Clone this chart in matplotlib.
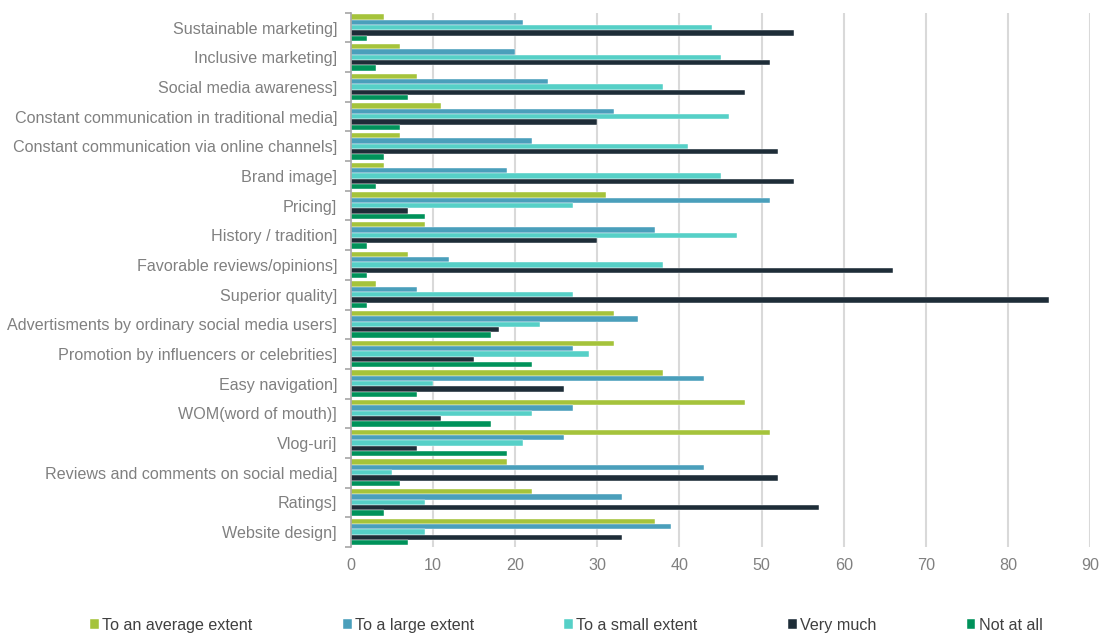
import numpy as np
import matplotlib.pyplot as plt

plt.rcParams['font.family'] = ['Liberation Sans', 'DejaVu Sans']

# survey factors, listed top to bottom
factors = [
    "Sustainable marketing]",
    "Inclusive marketing]",
    "Social media awareness]",
    "Constant communication in traditional media]",
    "Constant communication via online channels]",
    "Brand image]",
    "Pricing]",
    "History / tradition]",
    "Favorable reviews/opinions]",
    "Superior quality]",
    "Advertisments by ordinary social media users]",
    "Promotion by influencers or celebrities]",
    "Easy navigation]",
    "WOM(word of mouth)]",
    "Vlog-uri]",
    "Reviews and comments on social media]",
    "Ratings]",
    "Website design]",
]

average_extent = [4, 6, 8, 11, 6, 4, 31, 9, 7, 3, 32, 32, 38, 48, 51, 19, 22, 37]
large_extent = [21, 20, 24, 32, 22, 19, 51, 37, 12, 8, 35, 27, 43, 27, 26, 43, 33, 39]
small_extent = [44, 45, 38, 46, 41, 45, 27, 47, 38, 27, 23, 29, 10, 22, 21, 5, 9, 9]
very_much = [54, 51, 48, 30, 52, 54, 7, 30, 66, 85, 18, 15, 26, 11, 8, 52, 57, 33]
not_at_all = [2, 3, 7, 6, 4, 3, 9, 2, 2, 2, 17, 22, 8, 17, 19, 6, 4, 7]

series = [
    ("To an average extent", average_extent, "#a5c33b"),
    ("To a large extent", large_extent, "#4a9fbb"),
    ("To a small extent", small_extent, "#56d0c7"),
    ("Very much", very_much, "#1e2d38"),
    ("Not at all", not_at_all, "#00925a"),
]

fig = plt.figure(figsize=(11, 6.36), dpi=100)
ax = fig.add_axes([0.319, 0.140, 0.672, 0.840])

n = len(factors)
y = np.arange(n)
bar_h = 0.18
for i, (name, vals, col) in enumerate(series):
    offset = -0.36 + i * bar_h
    ax.barh(y + offset, vals, height=bar_h, color=col, label=name,
            edgecolor="white", linewidth=0.3)

ax.set_ylim(n - 0.5, -0.5)
ax.set_xlim(0, 90)
ax.set_xticks(range(0, 91, 10))
ax.set_yticks(y)
ax.set_yticklabels(factors)
ax.set_yticks(np.arange(-0.5, n, 1), minor=True)

ax.grid(axis="x", color="#d9d9d9", linewidth=1.5)
ax.set_axisbelow(True)
for s in ["top", "right", "bottom"]:
    ax.spines[s].set_visible(False)
ax.spines["left"].set_color("#a6a6a6")
ax.spines["left"].set_linewidth(1.2)

ax.tick_params(axis="y", which="major", length=0, pad=10, labelsize=11.6, labelcolor="#808080")
ax.tick_params(axis="y", which="minor", length=4, color="#a6a6a6", width=1.2)
ax.tick_params(axis="x", length=0, pad=8, labelsize=11.6, labelcolor="#808080")

handles, labels = ax.get_legend_handles_labels()
fig.legend(handles, labels, loc="lower center", bbox_to_anchor=(0.515, -0.018), ncol=5,
           frameon=False, fontsize=11.6, handlelength=0.55, handleheight=0.55,
           handletextpad=0.2, columnspacing=5.6, labelcolor="#404040")

fig.savefig("out.png", dpi=100)
